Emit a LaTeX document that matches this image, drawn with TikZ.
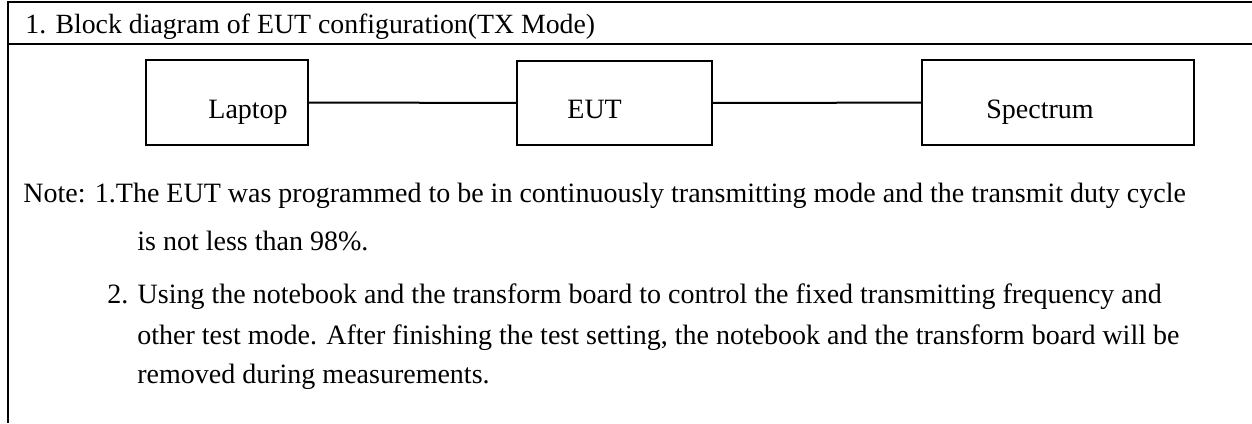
\documentclass[tikz,border=0pt]{standalone}
\usepackage{fontspec}
\setmainfont{Liberation Serif}
\usepackage{tikz}
\usetikzlibrary{positioning}

\begin{document}
\begin{tikzpicture}[x=0.5pt,y=-0.5pt,
    frame/.style={line width=1.3pt,black},
    unit/.style={draw,line width=1pt,rectangle,inner sep=0pt},
    unittxt/.style={anchor=base west,inner sep=0pt,font=\fontsize{14}{16}\selectfont},
    title/.style={anchor=base west,inner sep=0pt,font=\fontsize{13.9}{16}\selectfont},
    note/.style={anchor=base west,inner sep=0pt,font=\fontsize{14}{16}\selectfont},
    wire/.style={line width=1pt}]

  \useasboundingbox (0,0) rectangle (1252,423);

  % table frame
  \draw[frame] (8,2) -- (1252,2);
  \draw[frame] (8,44) -- (1252,44);
  \draw[frame] (8,1) -- (8,423);
  \node[title] (head) at (25,33) {1. Block diagram of EUT configuration(TX Mode)};

  % blocks
  \node[unit,minimum width=81pt,minimum height=42.5pt] (lap) at (227,102.5) {};
  \node[unit,minimum width=97.5pt,minimum height=42pt] (eut) at (614.5,103) {};
  \node[unit,minimum width=136pt,minimum height=42.5pt] (spec) at (1058,102.5) {};
  \node[unittxt] (laptxt) at (208,118) {Laptop};
  \node[unittxt] (euttxt) at (567,118) {EUT};
  \node[unittxt] (spectxt) at (986,118) {Spectrum};

  \draw[wire] (lap) -- (eut);
  \draw[wire] (eut) -- (spec);

  % notes
  \node[note] (n1) at (23,202) {Note: 1.The EUT was programmed to be in continuously transmitting mode and the transmit duty cycle};
  \node[note] (n1b) at (137,250) {is not less than 98\%.};
  \node[note] (n2) at (107,303) {2. Using the notebook and the transform board to control the fixed transmitting frequency and};
  \node[note] (n2b) at (137,344) {other test mode. After finishing the test setting, the notebook and the transform board will be};
  \node[note] (n2c) at (137,383) {removed during measurements.};
\end{tikzpicture}
\end{document}
